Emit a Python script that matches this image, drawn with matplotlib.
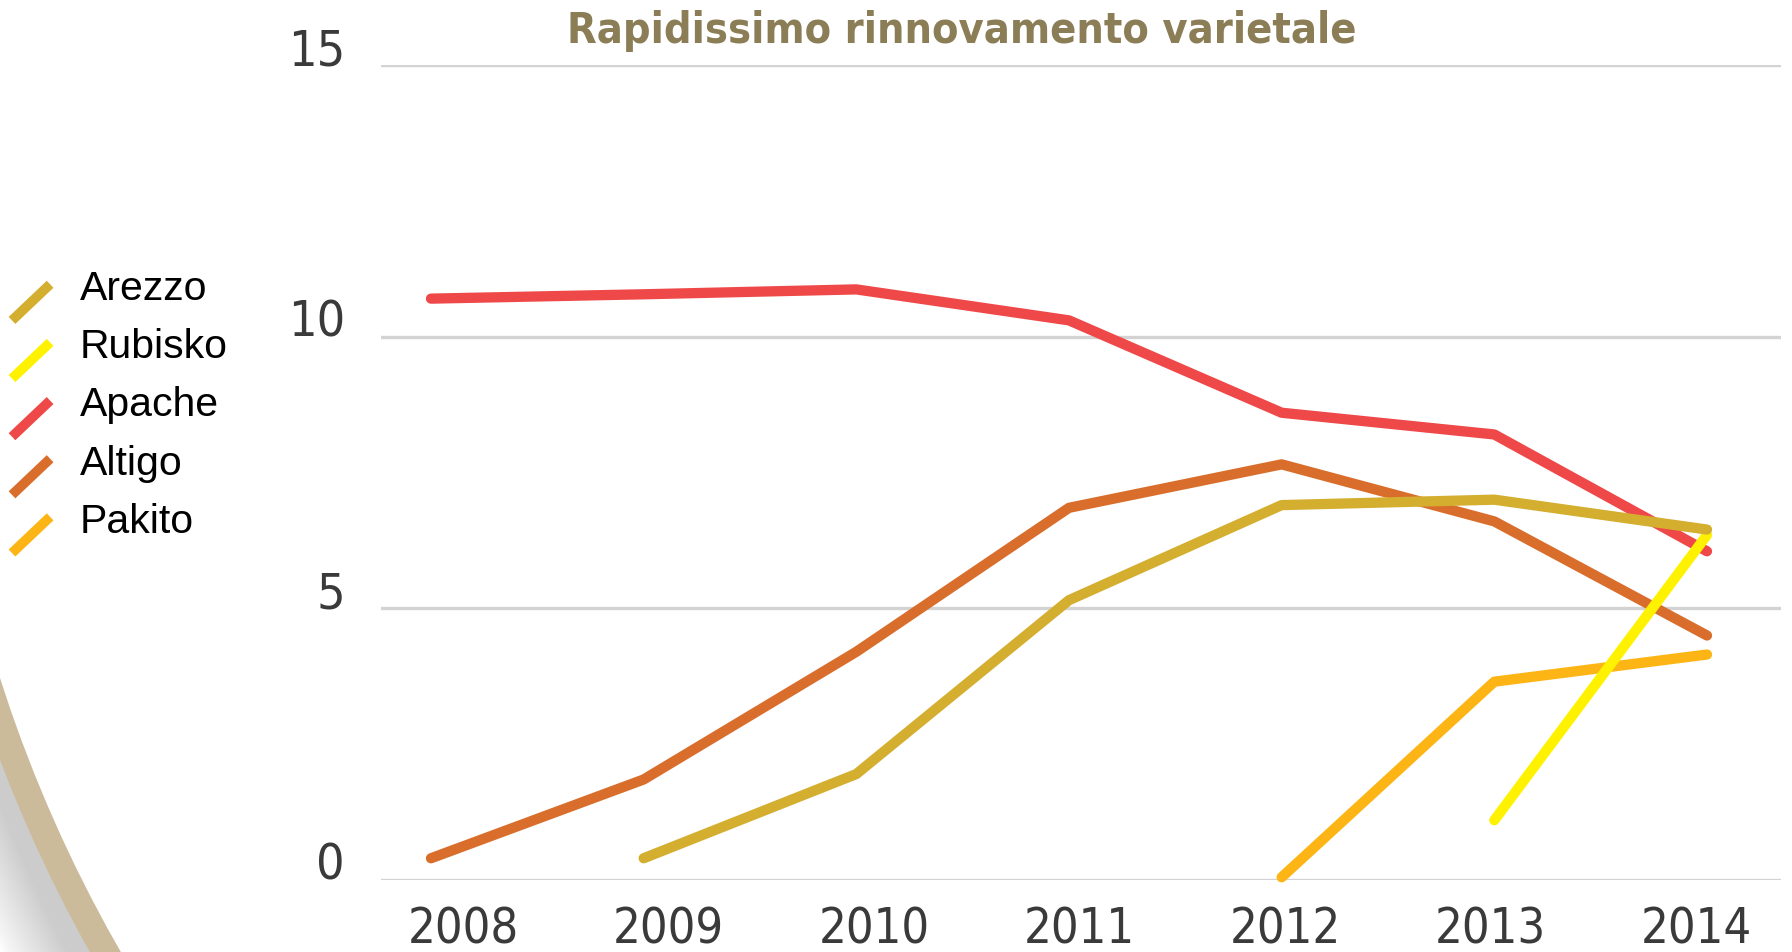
import numpy as np
import matplotlib
matplotlib.use('Agg')
import matplotlib.pyplot as plt
from matplotlib.lines import Line2D
from matplotlib.patches import Circle
from matplotlib.legend_handler import HandlerLine2D

years = [2008, 2009, 2010, 2011, 2012, 2013, 2014]
varieties = ['Arezzo', 'Rubisko', 'Apache', 'Altigo', 'Pakito']
colors = ['#D4AE2E', '#FFF200', '#EF4848', '#D96E2C', '#FDB515']

nan = np.nan
arezzo = [nan, 0.4, 1.95, 5.15, 6.9, 7.0, 6.45]
rubisko = [nan, nan, nan, nan, nan, 1.1, 6.35]
apache = [10.7, 10.78, 10.87, 10.3, 8.6, 8.2, 6.05]
altigo = [0.4, 1.85, 4.2, 6.85, 7.65, 6.6, 4.5]
pakito = [nan, nan, nan, nan, 0.05, 3.65, 4.15]

series = [arezzo, rubisko, apache, altigo, pakito]
draw_order = [2, 3, 4, 1, 0]   # Apache at the bottom, Arezzo on top

tick_font = ['DejaVu Sans Condensed', 'DejaVu Sans']
text_font = ['Liberation Sans', 'DejaVu Sans']

fig = plt.figure(figsize=(17.92, 9.52), dpi=100)
fig.patch.set_facecolor('white')

# decorative ring in the lower left corner, with a soft shadow
cx, cy = 13.35, 6.99
r_in, r_out = 14.01, 14.28
n_shadow = 24
for k in range(n_shadow):
    r = r_out + 0.6 * (1 - k / n_shadow)
    fig.add_artist(Circle((cx - 0.04, cy - 0.30), r, transform=fig.dpi_scale_trans,
                          fc='#777777', ec='none', alpha=0.016, zorder=0))
fig.add_artist(Circle((cx, cy), r_in + 0.01, transform=fig.dpi_scale_trans,
                      fc='white', ec='none', zorder=0.5))
fig.add_artist(Circle((cx, cy), (r_in + r_out) / 2, transform=fig.dpi_scale_trans,
                      fill=False, lw=(r_out - r_in) * 72, ec='#CBBB9B', zorder=1))

ax = fig.add_axes([381 / 1792, 1 - 880 / 952, 1400 / 1792, 815 / 952])
ax.patch.set_alpha(0)
ax.set_zorder(2)

for i in draw_order:
    ax.plot(years, series[i], color=colors[i], lw=7.4, solid_capstyle='round',
            solid_joinstyle='round', clip_on=False)

ax.set_xlim(2007.765, 2014.348)
ax.set_ylim(0, 15)
ax.set_yticks([0, 5, 10, 15])
ax.set_yticklabels(['0', '5', '10', '15'], family=tick_font, fontstretch='condensed',
                   fontsize=36, color='#3a3a3a')
ax.set_xticks(np.linspace(2008.15, 2013.95, 7))
ax.set_xticklabels([str(y) for y in years], family=tick_font, fontstretch='condensed',
                   fontsize=35, color='#3a3a3a')
for lab in ax.get_yticklabels():
    lab.set_verticalalignment('baseline')
ax.tick_params(length=0)
ax.tick_params(axis='y', pad=26)
ax.tick_params(axis='x', pad=18)
ax.yaxis.grid(True, color='#D3D3D3', lw=2.4)
ax.set_axisbelow(True)
for s in ax.spines.values():
    s.set_visible(False)


class DiagonalHandler(HandlerLine2D):
    def create_artists(self, legend, orig_handle, xdescent, ydescent, width, height, fontsize, trans):
        line = Line2D([-xdescent, width - xdescent], [-ydescent - 0.45 * height, 0.55 * height - ydescent])
        self.update_prop(line, orig_handle, legend)
        line.set_transform(trans)
        return [line]


handles = [Line2D([], [], color=c, lw=7, solid_capstyle='butt') for c in colors]
leg = fig.legend(handles, varieties, loc='upper left', bbox_to_anchor=(12 / 1792, 1 - 268 / 952),
                 bbox_transform=fig.transFigure, frameon=False, borderpad=0, borderaxespad=0,
                 handlelength=0.93, handleheight=0.98, handletextpad=0.73, labelspacing=0.44,
                 prop={'family': text_font, 'size': 29.5},
                 handler_map={Line2D: DiagonalHandler()})

fig.text(962 / 1792, 1 - 31 / 952, 'Rapidissimo rinnovamento varietale', ha='center', va='center',
         fontsize=31, fontweight='bold', fontstretch='condensed', color='#8B7D55',
         family=['DejaVu Sans Condensed', 'DejaVu Sans'])

fig.savefig('out.png', dpi=100)
